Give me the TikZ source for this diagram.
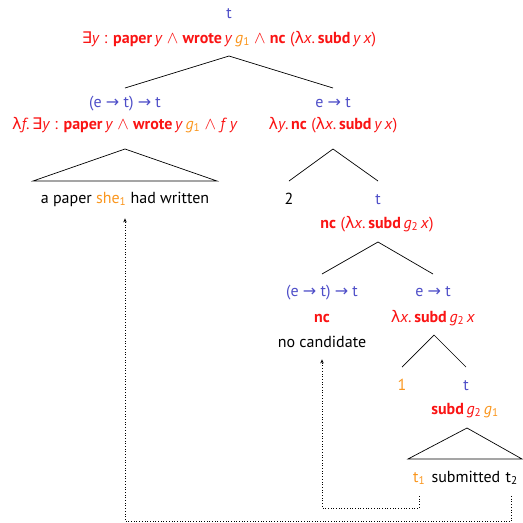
\documentclass[tikz,border=0pt]{standalone}
\usepackage{fontspec}
\setmainfont{PT Sans}
\newfontfamily\symf{DejaVu Sans}
\usetikzlibrary{arrows.meta}
\definecolor{tyblue}{RGB}{78,78,200}
\definecolor{smred}{RGB}{250,20,20}
\definecolor{idxor}{RGB}{250,150,30}
\newcommand\Ar{{\symf →}}
\newcommand\Ex{{\symf ∃}}
\newcommand\An{$\wedge$}
\newcommand\La{{\symf λ}}
\newcommand\V[1]{\textit{#1}}
\newcommand\Gi{\textcolor{idxor}{\textit{g}\textsubscript{1}}}
\newcommand\Gii{\textit{g}\textsubscript{2}}
\begin{document}
\begin{tikzpicture}[x=1pt,y=-1pt,
  lab/.style={anchor=base, inner sep=0pt, font=\fontsize{16}{19}\selectfont},
  ty/.style={lab, text=tyblue},
  sem/.style={lab, text=smred},
  wd/.style={lab, text=black},
  br/.style={line width=0.7pt, line join=miter},
  link/.style={dotted, line width=0.7pt, -{Stealth[length=4pt,width=3.5pt]}}]
\useasboundingbox (0,0) rectangle (523,523);
% root
\node[ty] (rty) at (229,18) {t};
\node[sem] (rsem) at (229,43) {\Ex\V{y} : \textbf{paper}\,\V{y} \An{} \textbf{wrote}\,\V{y}\,\Gi{} \An{} \textbf{nc}\;(\La\V{x}.\,\textbf{subd}\,\V{y}\,\V{x})};
\coordinate (rA) at (229,56);
\coordinate (rL) at (125,88);
\coordinate (rR) at (333,88);
\draw[br] (rL) -- (rA) -- (rR);
% left daughter
\node[ty] (lty) at (125,107) {(e \Ar{} t) \Ar{} t};
\node[sem] (lsem) at (125,129) {\La\V{f}.\,\Ex\V{y} : \textbf{paper}\,\V{y} \An{} \textbf{wrote}\,\V{y}\,\Gi{} \An{} \V{f}\,\V{y}};
\coordinate (lA) at (125,149);
\coordinate (lB1) at (33,181);
\coordinate (lB2) at (217,181);
\draw[br] (lA) -- (lB1) -- (lB2) -- cycle;
\node[wd] (paper) at (125,203) {a paper \textcolor{idxor}{she\textsubscript{1}} had written};
% right daughter
\node[ty] (rrty) at (333,107) {e \Ar{} t};
\node[sem] (rrsem) at (333,129) {\La\V{y}.\,\textbf{nc}\;(\La\V{x}.\,\textbf{subd}\,\V{y}\,\V{x})};
\coordinate (bA) at (333,149);
\coordinate (bL) at (289,181);
\coordinate (bR) at (378,181);
\draw[br] (bL) -- (bA) -- (bR);
\node[wd] (two) at (289,204) {2};
\node[ty] (tt) at (378,204) {t};
\node[sem] (tsem) at (377,228) {\textbf{nc}\;(\La\V{x}.\,\textbf{subd}\,\Gii\,\V{x})};
\coordinate (cA) at (378,242);
\coordinate (cL) at (322,274);
\coordinate (cR) at (433,274);
\draw[br] (cL) -- (cA) -- (cR);
\node[ty] (ncty) at (322,296) {(e \Ar{} t) \Ar{} t};
\node[sem] (ncsem) at (322,322) {\textbf{nc}};
\node[wd] (nocand) at (322,347) {no candidate};
\node[ty] (vpty) at (433,296) {e \Ar{} t};
\node[sem] (vpsem) at (433,322) {\La\V{x}.\,\textbf{subd}\,\Gii\,\V{x}};
\coordinate (dA) at (434,335);
\coordinate (dL) at (402,367);
\coordinate (dR) at (466,367);
\draw[br] (dL) -- (dA) -- (dR);
\node[lab, text=idxor] (one) at (402,390) {1};
\node[ty] (st) at (466,390) {t};
\node[sem] (ssem) at (465,414) {\textbf{subd}\,\Gii\,\Gi};
\coordinate (sA) at (467,428);
\coordinate (sB1) at (408,459);
\coordinate (sB2) at (522,459);
\draw[br] (sA) -- (sB1) -- (sB2) -- cycle;
\node[lab, anchor=base west, text=idxor] (t1) at (413,482) {t\textsubscript{1}};
\node[wd, anchor=base west] (subm) at ([xshift=6pt]t1.base east) {submitted};
\node[wd, anchor=base west] (t2) at ([xshift=5pt]subm.base east) {t\textsubscript{2}};
% movement links
\draw[link] (t1.south |- 0,496) -- (t1.south |- 0,508) -- (nocand.south |- 0,508) -- ([yshift=-12pt]nocand.south);
\draw[link] (t2.south |- 0,496) -- (t2.south |- 0,521) -- (paper.south |- 0,521) -- ([yshift=-12pt]paper.south);
\end{tikzpicture}
\end{document}
